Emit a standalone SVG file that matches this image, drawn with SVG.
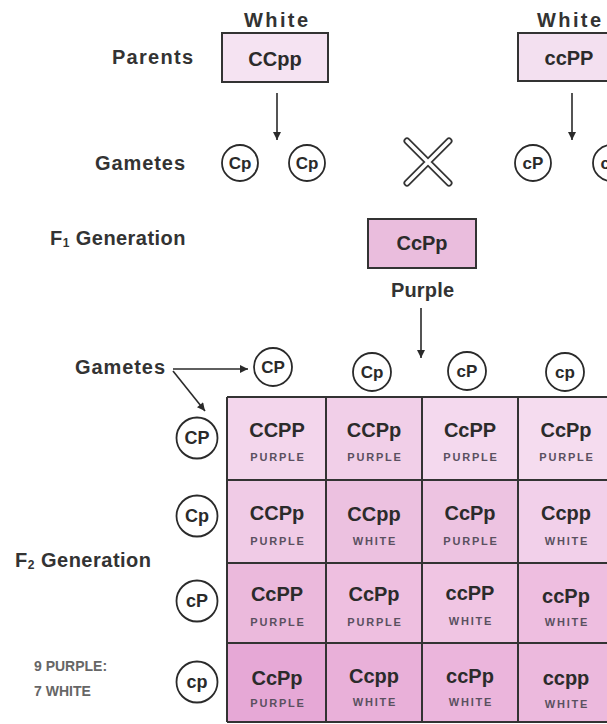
<svg xmlns="http://www.w3.org/2000/svg" width="607" height="724" viewBox="0 0 607 724">
<defs>
<marker id="ah" viewBox="0 0 10 10" refX="10" refY="5" markerWidth="9" markerHeight="8" markerUnits="userSpaceOnUse" orient="auto">
<path d="M0,0 L10,5 L0,10 z" fill="#2a2a2a"/>
</marker>
<style>
.lbl{font-family:"Liberation Sans",Arial,sans-serif;font-weight:bold;font-size:20px;fill:#333}
.box{stroke:#333;stroke-width:2}
.gt{font-family:"Liberation Sans",Arial,sans-serif;font-weight:bold;font-size:20px;fill:#2b2b2b;text-anchor:middle}
.ph{font-family:"Liberation Sans",Arial,sans-serif;font-weight:bold;font-size:11px;fill:#5a5060;text-anchor:middle;letter-spacing:1.8px}
.gc{fill:#fff;stroke:#2a2a2a;stroke-width:1.8}
.gtx{font-family:"Liberation Sans",Arial,sans-serif;font-weight:bold;font-size:17px;fill:#2a2a2a;text-anchor:middle}
.gtx2{font-family:"Liberation Sans",Arial,sans-serif;font-weight:bold;font-size:18px;fill:#2a2a2a;text-anchor:middle}
.conn{stroke:#2a2a2a;stroke-width:1.6;fill:none}
.grid{stroke:#333;stroke-width:2;fill:none}
.ratio{font-family:"Liberation Sans",Arial,sans-serif;font-weight:bold;font-size:14px;fill:#666}
</style>
</defs>
<rect width="607" height="724" fill="#fff"/>

<g id="labels">
<text class="lbl" x="193" y="64" text-anchor="end" textLength="81" lengthAdjust="spacing">Parents</text>
<text class="lbl" x="185" y="170" text-anchor="end" textLength="90" lengthAdjust="spacing">Gametes</text>
<text class="lbl" x="50" y="245" letter-spacing="0.45">F<tspan font-size="12" dy="2">1</tspan><tspan dy="-2"> Generation</tspan></text>
<text class="lbl" x="75" y="374" textLength="90" lengthAdjust="spacing">Gametes</text>
<text class="lbl" x="15" y="567" letter-spacing="0.5">F<tspan font-size="12" dy="2">2</tspan><tspan dy="-2"> Generation</tspan></text>
<text class="ratio" x="34" y="671">9 PURPLE:</text>
<text class="ratio" x="34" y="696">7 WHITE</text>
</g>

<g id="parent1">
<text class="lbl" x="244" y="27" textLength="64" lengthAdjust="spacing">White</text>
<rect class="box" x="222" y="33" width="106" height="49" fill="#f5e3f2"/>
<text class="gt" x="275" y="66">CCpp</text>
</g>

<g id="parent2">
<text class="lbl" x="537" y="27" textLength="64" lengthAdjust="spacing">White</text>
<rect class="box" x="518" y="33" width="104" height="48" fill="#f3e0f0"/>
<text class="gt" x="569" y="65">ccPP</text>
</g>

<g id="gametes-p1">
<circle class="gc" cx="240" cy="163" r="18"/>
<text class="gtx" x="240" y="169">Cp</text>
<circle class="gc" cx="307" cy="163" r="18"/>
<text class="gtx" x="307" y="169">Cp</text>
</g>

<g id="gametes-p2">
<circle class="gc" cx="533" cy="163" r="18"/>
<text class="gtx" x="533" y="169">cP</text>
<circle class="gc" cx="611" cy="163" r="18"/>
<text class="gtx" x="611" y="169">cP</text>
</g>

<g id="cross">
<path d="M407,141 L449,183 M449,141 L407,183" stroke="#333" stroke-width="7" stroke-linecap="round" fill="none"/>
<path d="M407,141 L449,183 M449,141 L407,183" stroke="#fff" stroke-width="3.6" stroke-linecap="round" fill="none"/>
</g>

<g id="f1">
<rect class="box" x="368" y="219" width="108" height="49" fill="#eabddd"/>
<text class="gt" x="422" y="250">CcPp</text>
<text class="lbl" x="391" y="297" textLength="63" lengthAdjust="spacing">Purple</text>
</g>

<g id="f1-gametes">
<circle class="gc" cx="273" cy="367" r="19"/>
<text class="gtx" x="273" y="373">CP</text>
<circle class="gc" cx="372" cy="372" r="19"/>
<text class="gtx" x="372" y="378">Cp</text>
<circle class="gc" cx="467" cy="371" r="19"/>
<text class="gtx" x="467" y="377">cP</text>
<circle class="gc" cx="565" cy="372" r="19"/>
<text class="gtx" x="565" y="378">cp</text>
</g>

<g id="row-gametes">
<circle class="gc" cx="197" cy="438" r="20.5"/>
<text class="gtx2" x="197" y="444">CP</text>
<circle class="gc" cx="197" cy="516" r="20.5"/>
<text class="gtx2" x="197" y="522">Cp</text>
<circle class="gc" cx="197" cy="601" r="20.5"/>
<text class="gtx2" x="197" y="607">cP</text>
<circle class="gc" cx="197" cy="682" r="20.5"/>
<text class="gtx2" x="197" y="688">cp</text>
</g>

<g id="punnett">
<rect x="227" y="397" width="99" height="83" fill="#f3d6ec"/>
<rect x="326" y="397" width="96" height="83" fill="#f1cfe8"/>
<rect x="422" y="397" width="96" height="83" fill="#f4d9ee"/>
<rect x="518" y="397" width="96" height="83" fill="#f5dcef"/>
<rect x="227" y="480" width="99" height="83" fill="#f0cbe6"/>
<rect x="326" y="480" width="96" height="83" fill="#ecc1e0"/>
<rect x="422" y="480" width="96" height="83" fill="#edc3e1"/>
<rect x="518" y="480" width="96" height="83" fill="#f2d0ea"/>
<rect x="227" y="563" width="99" height="80" fill="#ebb9dc"/>
<rect x="326" y="563" width="96" height="80" fill="#eebfe0"/>
<rect x="422" y="563" width="96" height="80" fill="#f0c5e3"/>
<rect x="518" y="563" width="96" height="80" fill="#eebee0"/>
<rect x="227" y="643" width="99" height="79" fill="#e6a8d6"/>
<rect x="326" y="643" width="96" height="79" fill="#e9b0d9"/>
<rect x="422" y="643" width="96" height="79" fill="#ebb5dc"/>
<rect x="518" y="643" width="96" height="79" fill="#ecb9dd"/>
<path class="grid" d="M227,397 H614 M227,480 H614 M227,563 H614 M227,643 H614 M227,722 H614 M227,397 V722 M326,397 V722 M422,397 V722 M518,397 V722"/>

<text class="gt" x="277" y="437">CCPP</text><text class="ph" x="278" y="461">PURPLE</text>
<text class="gt" x="374" y="437">CCPp</text><text class="ph" x="375" y="461">PURPLE</text>
<text class="gt" x="470" y="437">CcPP</text><text class="ph" x="471" y="461">PURPLE</text>
<text class="gt" x="566" y="437">CcPp</text><text class="ph" x="567" y="461">PURPLE</text>

<text class="gt" x="277" y="520">CCPp</text><text class="ph" x="278" y="545">PURPLE</text>
<text class="gt" x="374" y="521">CCpp</text><text class="ph" x="375" y="545">WHITE</text>
<text class="gt" x="470" y="520">CcPp</text><text class="ph" x="471" y="545">PURPLE</text>
<text class="gt" x="566" y="520">Ccpp</text><text class="ph" x="567" y="545">WHITE</text>

<text class="gt" x="277" y="601">CcPP</text><text class="ph" x="278" y="626">PURPLE</text>
<text class="gt" x="374" y="601">CcPp</text><text class="ph" x="375" y="626">PURPLE</text>
<text class="gt" x="470" y="600">ccPP</text><text class="ph" x="471" y="625">WHITE</text>
<text class="gt" x="566" y="603">ccPp</text><text class="ph" x="567" y="626">WHITE</text>

<text class="gt" x="277" y="685">CcPp</text><text class="ph" x="278" y="707">PURPLE</text>
<text class="gt" x="374" y="683">Ccpp</text><text class="ph" x="375" y="706">WHITE</text>
<text class="gt" x="470" y="683">ccPp</text><text class="ph" x="471" y="706">WHITE</text>
<text class="gt" x="566" y="685">ccpp</text><text class="ph" x="567" y="708">WHITE</text>
</g>

<g id="connectors">
<line class="conn" x1="277" y1="93" x2="277" y2="140" marker-end="url(#ah)"/>
<line class="conn" x1="572" y1="93" x2="572" y2="140" marker-end="url(#ah)"/>
<line class="conn" x1="421" y1="308" x2="421" y2="358" marker-end="url(#ah)"/>
<line class="conn" x1="173" y1="369" x2="248" y2="369" marker-end="url(#ah)"/>
<line class="conn" x1="173" y1="371" x2="205" y2="411" marker-end="url(#ah)"/>
</g>
</svg>
